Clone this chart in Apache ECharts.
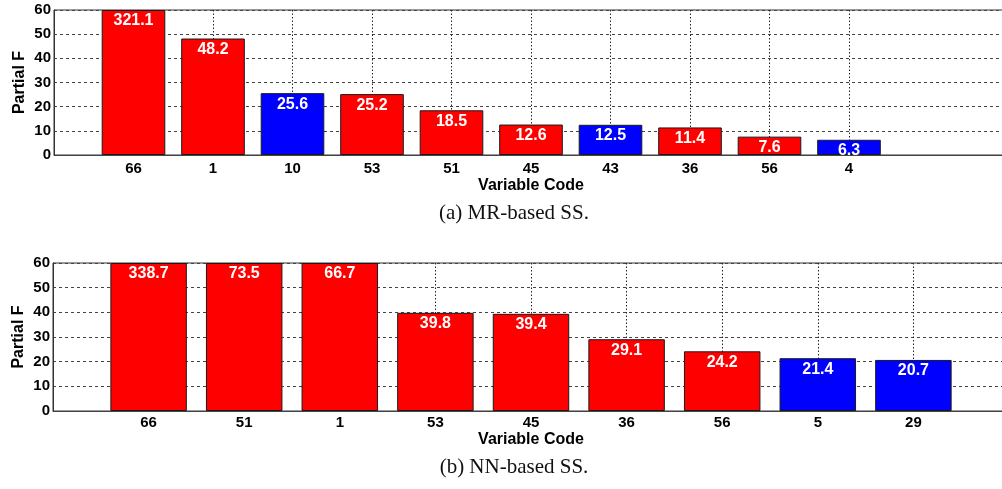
<!DOCTYPE html>
<html>
<head>
<meta charset="utf-8">
<script src="https://cdn.jsdelivr.net/npm/echarts@6/dist/echarts.min.js"></script>
<style>
html,body{margin:0;padding:0;background:#fff;overflow:hidden;}
#chart{width:1012px;height:489px;}
</style>
</head>
<body>
<div id="chart"></div>
<script>
// ---- data ----
const catsA = ['66','1','10','53','51','45','43','36','56','4'];
const valsA = [321.1, 48.2, 25.6, 25.2, 18.5, 12.6, 12.5, 11.4, 7.6, 6.3];
const groupA = ['r','r','b','r','r','r','b','r','r','b'];

const catsB = ['66','51','1','53','45','36','56','5','29'];
const valsB = [338.7, 73.5, 66.7, 39.8, 39.4, 29.1, 24.2, 21.4, 20.7];
const groupB = ['r','r','r','r','r','r','r','b','b'];

const yMin = 0, yMax = 60, yStep = 10;
const captionA = '(a) MR-based SS.';
const captionB = '(b) NN-based SS.';
const xName = 'Variable Code';
const yName = 'Partial F';

// ---- build ----
const FONT = '"Liberation Sans", Arial, sans-serif';
const colorOf = g => g === 'b' ? '#0000ff' : '#ff0000';

function axisCats(cats, padRight) {
  const out = [''].concat(cats);
  for (let i = 0; i < padRight; i++) out.push('');
  return out;
}
function barData(vals, groups, padRight) {
  const out = ['-'];
  vals.forEach((v, i) => out.push({
    value: Math.min(v, yMax), raw: v,
    itemStyle: { color: colorOf(groups[i]) }
  }));
  for (let i = 0; i < padRight; i++) out.push('-');
  return out;
}

function xAxisFor(gridIndex, cats, padRight, nameGap, labelMargin) {
  const n = cats.length;
  return {
    type: 'category', gridIndex, boundaryGap: false,
    data: axisCats(cats, padRight),
    axisLine: { show: true, lineStyle: { color: '#444', width: 1 } },
    axisTick: { show: false },
    axisLabel: { interval: 0, margin: labelMargin, color: '#000', fontFamily: FONT, fontWeight: 'bold', fontSize: 15 },
    splitLine: { show: true, interval: (i) => i >= 1 && i <= n,
      lineStyle: { color: '#222', type: [1.5, 2], width: 1 } },
    name: xName, nameLocation: 'middle', nameGap,
    nameTextStyle: { color: '#000', fontFamily: FONT, fontWeight: 'bold', fontSize: 16 }
  };
}
function yAxisFor(gridIndex) {
  return {
    type: 'value', gridIndex, min: yMin, max: yMax, interval: yStep,
    axisLine: { show: true, lineStyle: { color: '#333', width: 1 } },
    axisTick: { show: false },
    axisLabel: { margin: 3, color: '#000', fontFamily: FONT, fontWeight: 'bold', fontSize: 15 },
    splitLine: { show: true, lineStyle: { color: '#444', type: [3, 3], width: 1 } },
    name: yName, nameLocation: 'middle', nameGap: 26, nameMoveOverlap: false,
    nameTextStyle: { color: '#000', fontFamily: FONT, fontWeight: 'bold', fontSize: 16 }
  };
}
function barSeries(idx, vals, groups, padRight) {
  return {
    type: 'bar', xAxisIndex: idx, yAxisIndex: idx,
    barWidth: '80%',
    data: barData(vals, groups, padRight),
    itemStyle: { borderColor: '#1a1a1a', borderWidth: 1 },
    label: {
      show: true, position: 'insideTop', distance: 3,
      color: '#fff', fontFamily: FONT, fontWeight: 'bold', fontSize: 16,
      formatter: p => p.data && p.data.raw !== undefined ? p.data.raw.toFixed(1) : ''
    },
    silent: true, animation: false
  };
}

const chart = echarts.init(document.getElementById('chart'), null, { renderer: 'canvas' });
chart.setOption({
  animation: false,
  grid: [
    { left: 54, top: 10, width: 954, height: 145, show: true, borderColor: '#333', borderWidth: 1 },
    { left: 53, top: 263, width: 958, height: 148, show: true, borderColor: '#333', borderWidth: 1 }
  ],
  xAxis: [ xAxisFor(0, catsA, 2, 23, 6), xAxisFor(1, catsB, 1, 21, 4) ],
  yAxis: [ yAxisFor(0), yAxisFor(1) ],
  series: [ barSeries(0, valsA, groupA, 2), barSeries(1, valsB, groupB, 1) ],
  graphic: [
    { type: 'text', x: 514, y: 213, style: { text: captionA, textAlign: 'center', textVerticalAlign: 'middle',
      font: '21px "Liberation Serif", serif', fill: '#111' } },
    { type: 'text', x: 514, y: 467, style: { text: captionB, textAlign: 'center', textVerticalAlign: 'middle',
      font: '21px "Liberation Serif", serif', fill: '#111' } }
  ]
});
</script>
</body>
</html>
